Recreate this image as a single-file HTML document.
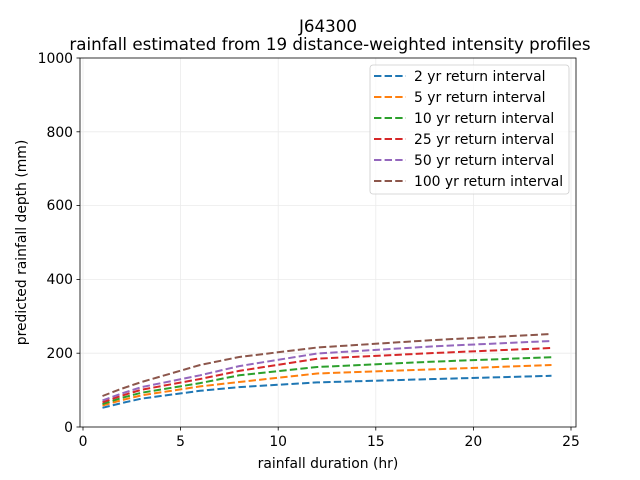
<!DOCTYPE html>
<html><head><meta charset="utf-8"><style>
html,body{margin:0;padding:0;background:#fff}
svg{display:block;font-family:"DejaVu Sans","Liberation Sans",sans-serif}
</style></head><body>
<svg width="640" height="480" viewBox="0 0 640 480">
<rect width="640" height="480" fill="#fff"/>
<g stroke="#ebebeb" stroke-width="0.8">
<line x1="83" y1="58" x2="83" y2="427"/><line x1="180.6" y1="58" x2="180.6" y2="427"/><line x1="278.2" y1="58" x2="278.2" y2="427"/><line x1="375.8" y1="58" x2="375.8" y2="427"/><line x1="473.4" y1="58" x2="473.4" y2="427"/><line x1="571" y1="58" x2="571" y2="427"/>
<line x1="80" y1="353.2" x2="576" y2="353.2"/><line x1="80" y1="279.4" x2="576" y2="279.4"/><line x1="80" y1="205.6" x2="576" y2="205.6"/><line x1="80" y1="131.8" x2="576" y2="131.8"/>
</g>
<g fill="none" stroke-width="2" stroke-dasharray="7.4,3.2">
<polyline stroke="#1f77b4" points="102.5,407.8 122,403 141.6,398.6 200.1,390.8 239.2,387.1 317.2,382.4 434.4,379 551.5,375.8"/>
<polyline stroke="#ff7f0e" points="102.5,405.6 122,400.1 141.6,395.3 200.1,386.4 239.2,382 317.2,373.5 434.4,369.3 551.5,365"/>
<polyline stroke="#2ca02c" points="102.5,404.1 122,397.8 141.6,392.7 200.1,383.1 239.2,375.3 317.2,367 434.4,361.6 551.5,357.2"/>
<polyline stroke="#d62728" points="102.5,402.3 122,395.6 141.6,389.7 200.1,379 239.2,370.9 317.2,358.7 434.4,353 551.5,348"/>
<polyline stroke="#9467bd" points="102.5,400.4 122,393.4 141.6,387.1 200.1,375.3 239.2,366.1 317.2,353.5 434.4,346.3 551.5,341"/>
<polyline stroke="#8c564b" points="102.5,396 122,388.6 141.6,382 200.1,365 239.2,357 317.2,347.5 434.4,340 551.5,334"/>
</g>
<rect x="80" y="58" width="496" height="369" fill="none" stroke="#000" stroke-width="0.8"/>
<g stroke="#000" stroke-width="0.8">
<line x1="83" y1="427" x2="83" y2="430.5"/><line x1="180.6" y1="427" x2="180.6" y2="430.5"/><line x1="278.2" y1="427" x2="278.2" y2="430.5"/><line x1="375.8" y1="427" x2="375.8" y2="430.5"/><line x1="473.4" y1="427" x2="473.4" y2="430.5"/><line x1="571" y1="427" x2="571" y2="430.5"/>
<line x1="76.5" y1="427" x2="80" y2="427"/><line x1="76.5" y1="353.2" x2="80" y2="353.2"/><line x1="76.5" y1="279.4" x2="80" y2="279.4"/><line x1="76.5" y1="205.6" x2="80" y2="205.6"/><line x1="76.5" y1="131.8" x2="80" y2="131.8"/><line x1="76.5" y1="58" x2="80" y2="58"/>
</g>
<g font-size="13.9" fill="#000" text-anchor="middle">
<text x="83" y="446">0</text><text x="180.6" y="446">5</text><text x="278.2" y="446">10</text><text x="375.8" y="446">15</text><text x="473.4" y="446">20</text><text x="571" y="446">25</text>
</g>
<g font-size="13.9" fill="#000" text-anchor="end">
<text x="73" y="432">0</text><text x="73" y="358">200</text><text x="73" y="284">400</text><text x="73" y="210">600</text><text x="73" y="137">800</text><text x="73" y="63">1000</text>
</g>
<text x="328" y="468" font-size="13.9" text-anchor="middle">rainfall duration (hr)</text>
<text transform="translate(26,242.5) rotate(-90)" font-size="13.9" text-anchor="middle">predicted rainfall depth (mm)</text>
<text x="328" y="32" font-size="16.7" text-anchor="middle">J64300</text>
<text x="330" y="50" font-size="16.7" text-anchor="middle">rainfall estimated from 19 distance-weighted intensity profiles</text>
<rect x="370" y="65" width="199" height="129" rx="3" fill="#fff" fill-opacity="0.8" stroke="#ccc" stroke-width="0.8"/>
<g fill="none" stroke-width="2" stroke-dasharray="7.4,3.2">
<line x1="374" y1="76" x2="406" y2="76" stroke="#1f77b4"/>
<line x1="374" y1="97" x2="406" y2="97" stroke="#ff7f0e"/>
<line x1="374" y1="118" x2="406" y2="118" stroke="#2ca02c"/>
<line x1="374" y1="139" x2="406" y2="139" stroke="#d62728"/>
<line x1="374" y1="160" x2="406" y2="160" stroke="#9467bd"/>
<line x1="374" y1="181" x2="406" y2="181" stroke="#8c564b"/>
</g>
<g font-size="13.9" fill="#000">
<text x="414" y="81">2 yr return interval</text>
<text x="414" y="102">5 yr return interval</text>
<text x="414" y="123">10 yr return interval</text>
<text x="414" y="144">25 yr return interval</text>
<text x="414" y="165">50 yr return interval</text>
<text x="414" y="186">100 yr return interval</text>
</g>
</svg>
</body></html>
